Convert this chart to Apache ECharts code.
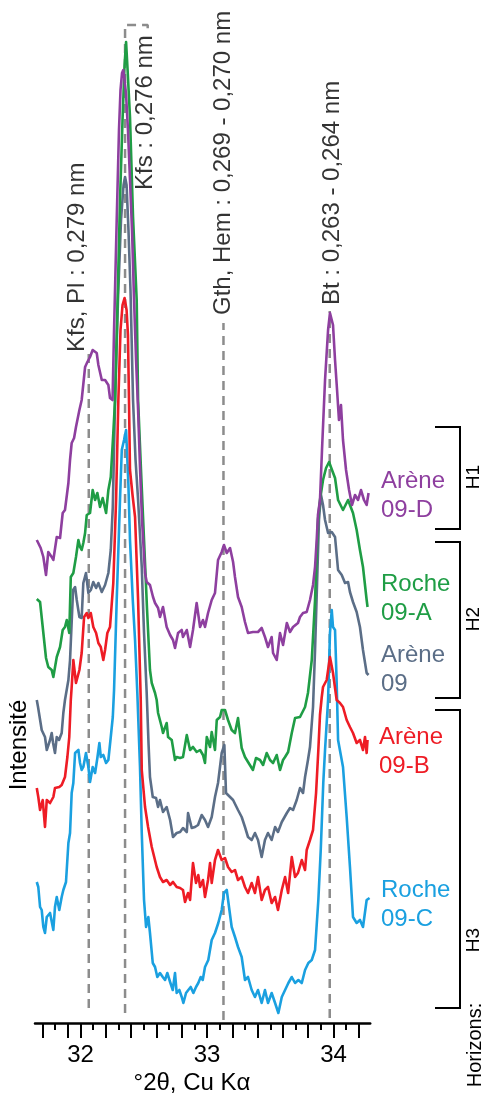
<!DOCTYPE html>
<html>
<head>
<meta charset="utf-8">
<script src="https://cdn.jsdelivr.net/npm/echarts@6/dist/echarts.min.js"></script>
<style>
html,body{margin:0;padding:0;background:#fff;}
#chart{width:485px;height:1101px;}
</style>
</head>
<body>
<div id="chart"></div>
<script>
// ---- DATA (2θ in degrees, intensity in arbitrary stacked units) ----
const xTickLabels = [32, 33, 34];
const longTicks = [31.7, 31.9, 32.0, 32.2, 32.4, 32.6, 32.8, 33.0, 33.2, 33.4, 33.6, 33.8, 34.0, 34.2];
const shortTicks = [31.8, 32.1, 32.3, 32.5, 32.7, 32.9, 33.1, 33.3, 33.5, 33.7, 33.9, 34.1];

const peakPositions = [32.065, 32.352, 33.130, 33.970];
const peakLabels = ['Kfs, Pl : 0,279 nm', 'Kfs : 0,276 nm', 'Gth, Hem : 0,269 - 0,270 nm', 'Bt : 0,263 - 0,264 nm'];
const peakLineTop = [671, 998, 700, 712];
const peakLineBottom = [15, 10, 3, 5];

const areneD = [[31.654,483],[31.666,485],[31.685,475],[31.706,466],[31.727,448],[31.745,471],[31.772,466],[31.785,463],[31.812,486],[31.838,485],[31.859,510],[31.877,513],[31.904,540],[31.917,563],[31.930,580],[31.949,585],[31.964,596],[31.991,613],[32.009,623],[32.036,656],[32.054,661],[32.075,666],[32.096,673],[32.128,670],[32.141,658],[32.168,643],[32.194,643],[32.220,638],[32.233,625],[32.253,623],[32.265,693],[32.286,803],[32.304,893],[32.316,933],[32.328,950],[32.338,953],[32.348,943],[32.360,928],[32.375,893],[32.391,843],[32.407,793],[32.423,723],[32.439,663],[32.455,613],[32.470,556],[32.486,503],[32.510,450],[32.523,441],[32.549,438],[32.573,426],[32.589,420],[32.613,415],[32.628,406],[32.652,416],[32.681,396],[32.708,388],[32.731,383],[32.747,375],[32.771,390],[32.800,393],[32.810,386],[32.840,393],[32.866,376],[32.889,393],[32.918,420],[32.945,396],[32.968,403],[32.984,396],[33.008,410],[33.037,423],[33.063,430],[33.087,463],[33.116,471],[33.134,478],[33.156,470],[33.182,475],[33.206,461],[33.221,446],[33.245,426],[33.274,416],[33.300,401],[33.324,390],[33.363,391],[33.403,391],[33.432,395],[33.458,386],[33.482,376],[33.511,386],[33.522,370],[33.551,363],[33.577,390],[33.601,378],[33.631,400],[33.656,391],[33.680,396],[33.719,400],[33.735,406],[33.759,410],[33.788,411],[33.814,423],[33.838,438],[33.854,456],[33.867,483],[33.877,508],[33.893,523],[33.909,573],[33.933,643],[33.957,693],[33.972,710],[33.984,711],[33.996,698],[34.012,663],[34.028,633],[34.043,603],[34.059,618],[34.075,583],[34.099,553],[34.123,533],[34.146,518],[34.170,528],[34.194,523],[34.217,533],[34.241,523],[34.262,518],[34.277,530]];

const rocheA = [[31.654,424],[31.680,421],[31.701,396],[31.727,365],[31.745,356],[31.772,353],[31.785,346],[31.812,366],[31.838,376],[31.859,393],[31.877,396],[31.891,403],[31.911,390],[31.923,446],[31.943,450],[31.964,466],[31.983,483],[31.996,476],[32.009,473],[32.022,480],[32.036,490],[32.049,508],[32.075,510],[32.096,533],[32.115,523],[32.133,530],[32.154,516],[32.175,525],[32.202,510],[32.220,533],[32.239,546],[32.259,590],[32.273,623],[32.293,723],[32.312,823],[32.332,903],[32.348,958],[32.360,981],[32.372,953],[32.391,906],[32.415,806],[32.444,723],[32.455,623],[32.478,553],[32.502,483],[32.526,413],[32.549,353],[32.563,340],[32.589,330],[32.602,323],[32.613,310],[32.642,296],[32.652,290],[32.681,300],[32.692,286],[32.721,283],[32.747,263],[32.760,266],[32.787,265],[32.810,266],[32.840,288],[32.866,273],[32.889,276],[32.918,271],[32.945,273],[32.968,268],[32.984,260],[32.998,286],[33.024,276],[33.037,291],[33.063,273],[33.077,303],[33.103,306],[33.116,313],[33.142,313],[33.166,303],[33.195,293],[33.221,290],[33.245,305],[33.274,275],[33.300,266],[33.324,261],[33.363,253],[33.387,265],[33.419,263],[33.443,258],[33.472,270],[33.498,263],[33.522,260],[33.551,268],[33.577,253],[33.601,263],[33.617,266],[33.641,271],[33.670,290],[33.696,305],[33.735,306],[33.775,316],[33.798,330],[33.828,363],[33.854,423],[33.877,503],[33.893,523],[33.917,543],[33.941,555],[33.965,561],[33.988,553],[34.012,545],[34.036,523],[34.075,513],[34.115,523],[34.154,510],[34.183,493],[34.209,473],[34.233,456],[34.262,423],[34.269,416]];

const arene09 = [[31.654,323],[31.664,316],[31.693,293],[31.719,286],[31.733,273],[31.759,283],[31.772,290],[31.783,280],[31.798,270],[31.812,286],[31.830,283],[31.851,290],[31.864,310],[31.877,323],[31.904,343],[31.917,363],[31.941,433],[31.957,436],[31.970,423],[31.991,406],[32.009,405],[32.022,440],[32.043,450],[32.062,430],[32.081,433],[32.101,441],[32.123,435],[32.141,440],[32.168,431],[32.194,438],[32.220,450],[32.239,473],[32.255,516],[32.273,623],[32.296,723],[32.320,803],[32.340,838],[32.352,846],[32.364,838],[32.379,793],[32.395,733],[32.415,623],[32.435,563],[32.455,523],[32.484,456],[32.502,390],[32.523,330],[32.538,278],[32.549,246],[32.571,226],[32.597,225],[32.613,216],[32.628,223],[32.652,211],[32.681,216],[32.708,203],[32.731,186],[32.760,190],[32.787,191],[32.810,195],[32.840,191],[32.850,210],[32.879,195],[32.905,196],[32.929,198],[32.958,208],[32.984,203],[33.008,196],[33.037,206],[33.063,226],[33.087,240],[33.116,270],[33.137,278],[33.150,230],[33.182,226],[33.206,223],[33.245,213],[33.274,206],[33.300,196],[33.324,186],[33.353,183],[33.379,190],[33.403,183],[33.432,166],[33.458,183],[33.482,190],[33.511,183],[33.538,196],[33.561,191],[33.591,201],[33.631,210],[33.656,215],[33.680,213],[33.709,223],[33.735,235],[33.759,230],[33.775,246],[33.798,263],[33.814,276],[33.838,316],[33.854,373],[33.870,440],[33.885,503],[33.901,528],[33.917,518],[33.933,503],[33.957,490],[33.986,491],[34.012,486],[34.036,453],[34.065,448],[34.091,440],[34.115,441],[34.130,431],[34.154,421],[34.183,411],[34.209,396],[34.233,373],[34.262,350],[34.277,348]];

const areneB = [[31.654,235],[31.666,226],[31.680,213],[31.701,223],[31.719,196],[31.733,223],[31.759,220],[31.785,226],[31.798,235],[31.832,236],[31.851,238],[31.877,246],[31.896,266],[31.911,286],[31.923,323],[31.930,336],[31.943,363],[31.964,340],[31.991,353],[32.009,370],[32.028,406],[32.049,410],[32.062,405],[32.081,410],[32.101,396],[32.123,390],[32.141,380],[32.160,376],[32.180,363],[32.194,373],[32.212,390],[32.233,396],[32.259,440],[32.281,523],[32.299,623],[32.316,693],[32.332,718],[32.348,725],[32.364,713],[32.375,688],[32.383,623],[32.391,553],[32.411,528],[32.431,506],[32.455,423],[32.476,323],[32.484,253],[32.510,216],[32.534,196],[32.563,176],[32.602,156],[32.628,146],[32.652,141],[32.681,143],[32.708,138],[32.731,141],[32.760,136],[32.787,135],[32.810,133],[32.826,121],[32.850,130],[32.866,123],[32.889,160],[32.913,140],[32.931,148],[32.945,136],[32.968,143],[32.984,126],[33.008,143],[33.024,160],[33.037,140],[33.063,163],[33.087,173],[33.116,163],[33.142,165],[33.166,156],[33.195,151],[33.221,153],[33.245,143],[33.274,146],[33.300,136],[33.324,130],[33.353,140],[33.379,130],[33.403,146],[33.432,123],[33.458,133],[33.482,136],[33.511,120],[33.538,126],[33.561,113],[33.591,133],[33.617,146],[33.641,130],[33.670,166],[33.696,146],[33.719,150],[33.749,163],[33.775,153],[33.788,173],[33.814,183],[33.838,193],[33.862,230],[33.880,273],[33.893,308],[33.907,326],[33.917,336],[33.946,343],[33.972,366],[33.996,350],[34.025,323],[34.051,320],[34.075,316],[34.104,303],[34.130,296],[34.154,290],[34.183,280],[34.209,283],[34.233,273],[34.249,286],[34.262,270],[34.269,283]];

const rocheC = [[31.654,141],[31.666,136],[31.680,116],[31.693,113],[31.706,96],[31.719,90],[31.733,106],[31.759,110],[31.772,111],[31.785,93],[31.798,116],[31.812,126],[31.832,113],[31.851,126],[31.864,133],[31.885,141],[31.904,180],[31.917,190],[31.930,230],[31.943,240],[31.957,270],[31.983,273],[31.996,260],[32.009,253],[32.022,256],[32.043,270],[32.062,256],[32.075,241],[32.096,256],[32.115,250],[32.133,265],[32.149,280],[32.160,266],[32.180,268],[32.202,260],[32.220,263],[32.239,286],[32.255,306],[32.265,333],[32.286,423],[32.312,523],[32.326,573],[32.344,583],[32.360,593],[32.378,540],[32.391,483],[32.413,423],[32.431,383],[32.449,330],[32.470,256],[32.484,190],[32.502,123],[32.518,96],[32.536,106],[32.549,90],[32.571,60],[32.589,56],[32.607,46],[32.628,50],[32.650,46],[32.668,43],[32.686,50],[32.708,41],[32.729,33],[32.747,50],[32.760,30],[32.781,33],[32.800,26],[32.813,20],[32.834,30],[32.852,33],[32.871,36],[32.892,30],[32.913,36],[32.931,40],[32.950,46],[32.966,43],[32.984,56],[33.010,63],[33.037,83],[33.063,90],[33.089,100],[33.116,113],[33.134,130],[33.156,133],[33.177,113],[33.195,96],[33.221,86],[33.245,76],[33.274,66],[33.300,43],[33.324,46],[33.353,33],[33.379,26],[33.403,33],[33.432,20],[33.458,33],[33.482,20],[33.511,30],[33.538,20],[33.564,10],[33.591,26],[33.617,33],[33.643,40],[33.670,46],[33.696,40],[33.722,43],[33.749,40],[33.775,53],[33.801,60],[33.828,63],[33.854,73],[33.880,123],[33.899,173],[33.919,240],[33.933,273],[33.957,323],[33.972,390],[33.986,413],[33.996,396],[34.012,393],[34.025,340],[34.036,283],[34.075,256],[34.104,206],[34.130,156],[34.154,106],[34.183,100],[34.209,103],[34.233,96],[34.262,123],[34.285,125]];

const seriesNames = ['Roche 09-C', 'Arène 09-B', 'Arène 09', 'Roche 09-A', 'Arène 09-D'];
const seriesData = [rocheC, areneB, arene09, rocheA, areneD];
const seriesColors = ['#1AA0E0', '#EE1C25', '#5B6E87', '#1F9D45', '#8E3F9F'];
const sampleLabels = ['Roche\n09-C', 'Arène\n09-B', 'Arène\n09', 'Roche\n09-A', 'Arène\n09-D'];
const horizonNames = ['H1', 'H2', 'H3'];

// ---- CHART ----
const FONT = '"Liberation Sans", Arial, Helvetica, sans-serif';
const chart = echarts.init(document.getElementById('chart'), null, {renderer: 'canvas'});

const series = [];
// dashed reference lines
peakPositions.forEach((p, i) => {
  let pts = [[p, peakLineBottom[i]], [p, peakLineTop[i]]];
  if (i === 1) pts = pts.concat([[32.531, peakLineTop[i]], [32.531, peakLineTop[i] - 8]]);
  series.push({
    type: 'line', data: pts, symbol: 'none', silent: true, z: 1,
    lineStyle: {color: '#8C8C8C', width: 2.5, type: [9, 6]}
  });
});
// spectra
seriesData.forEach((d, i) => {
  series.push({
    name: seriesNames[i], type: 'line', data: d, symbol: 'none', z: 3 + i,
    lineStyle: {color: seriesColors[i], width: 2.6, join: 'round'}
  });
});
// peak labels
const labelAnchors = [[31.972, 671], [32.510, 833], [33.126, 708], [33.988, 718]];
series.push({
  type: 'scatter', symbolSize: 0, silent: true, z: 10,
  data: labelAnchors.map((a, i) => ({value: a, label: {formatter: peakLabels[i]}})),
  label: {show: true, position: [0, 0], rotate: 90, align: 'left', verticalAlign: 'middle',
    fontSize: 24, fontFamily: FONT, color: '#000'}
});

const graphic = [];
// sample labels
const labelTops = [876, 723, 641, 570, 467];
const labelLefts = [381, 379, 381, 381, 381];
sampleLabels.forEach((t, i) => {
  graphic.push({type: 'text', left: labelLefts[i], top: labelTops[i],
    style: {text: t, fontSize: 24, fontFamily: FONT, fill: seriesColors[i], lineHeight: 29}});
});
// horizon brackets
const brackets = [[427, 529], [542, 698], [710, 1008]];
const hLabelY = [477, 619, 940];
brackets.forEach((b, i) => {
  graphic.push({type: 'polyline', shape: {points: [[435, b[0]], [460, b[0]], [460, b[1]], [435, b[1]]]},
    style: {stroke: '#000', lineWidth: 2, fill: null}});
  graphic.push({type: 'text', x: 474, y: hLabelY[i], rotation: Math.PI / 2,
    style: {text: horizonNames[i], x: 0, y: 0, align: 'center', verticalAlign: 'middle',
      fontSize: 19, fontFamily: FONT, fill: '#000'}});
});
graphic.push({type: 'text', x: 475, y: 1045, rotation: Math.PI / 2,
  style: {text: 'Horizons:', x: 0, y: 0, align: 'center', verticalAlign: 'middle',
    fontSize: 20, fontFamily: FONT, fill: '#000'}});
graphic.push({type: 'text', x: 19, y: 745, rotation: Math.PI / 2,
  style: {text: 'Intensité', x: 0, y: 0, align: 'center', verticalAlign: 'middle',
    fontSize: 24, fontFamily: FONT, fill: '#000'}});
graphic.push({type: 'text', x: 192, y: 1083,
  style: {text: '°2θ, Cu Kα', x: 0, y: 0, align: 'center', verticalAlign: 'middle',
    fontSize: 24, fontFamily: FONT, fill: '#000'}});

chart.setOption({
  animation: false,
  backgroundColor: '#fff',
  grid: {left: 35, right: 114.8, top: 23, bottom: 78, containLabel: false},
  xAxis: [{
    type: 'value', min: 31.64, max: 34.29, position: 'bottom',
    axisLine: {show: true, lineStyle: {color: '#000', width: 2.5}},
    axisTick: {show: true, customValues: longTicks, length: 15, lineStyle: {color: '#000', width: 2}},
    axisLabel: {show: true, customValues: xTickLabels, margin: 20, fontSize: 24, fontFamily: FONT, color: '#000'},
    splitLine: {show: false}
  }, {
    type: 'value', min: 31.64, max: 34.29, position: 'bottom',
    axisLine: {show: false},
    axisTick: {show: true, customValues: shortTicks, length: 7, lineStyle: {color: '#000', width: 2}},
    axisLabel: {show: false},
    splitLine: {show: false}
  }],
  yAxis: {type: 'value', min: 0, max: 1000, show: false},
  series: series,
  graphic: graphic
});
</script>
</body>
</html>
